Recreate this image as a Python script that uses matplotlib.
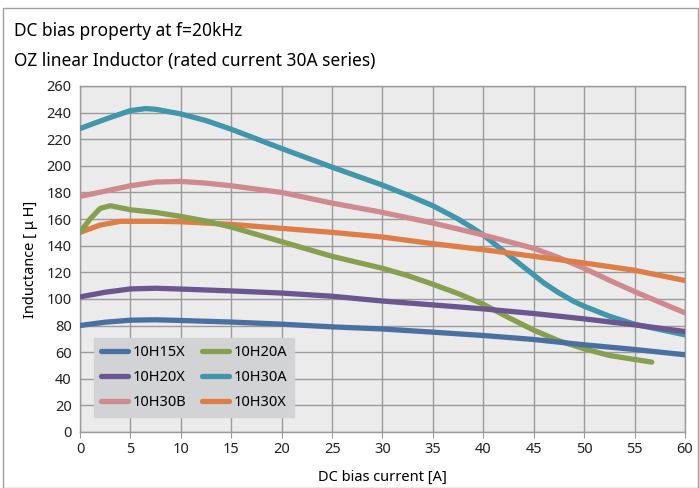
import matplotlib.pyplot as plt
from matplotlib.patches import Rectangle

plt.rcParams['font.family'] = ['Noto Sans', 'DejaVu Sans']

# DC bias current [A] and inductance [uH]
x_15x = [0, 2.5, 5, 7.5, 10, 15, 20, 25, 30, 35, 40, 45, 50, 55, 60]
y_15x = [80, 82.5, 84, 84.3, 83.8, 82.6, 81, 79, 77.4, 75, 72.5, 69.5, 65.5, 62, 58]

x_20x = [0, 2.5, 5, 7.5, 10, 15, 20, 25, 30, 35, 40, 45, 50, 55, 60]
y_20x = [101.5, 105, 107.5, 108, 107.4, 106, 104.4, 102, 98.4, 95.5, 92.5, 89, 85, 80.5, 75.5]

x_20a = [0, 1, 2, 3, 4, 5, 7.5, 10, 12.5, 15, 20, 25, 30, 32.5, 35, 37.5, 40,
         42.5, 45, 47.5, 50, 52.5, 55, 56.7]
y_20a = [150, 160, 168, 170, 168.5, 167, 165, 162, 158.5, 154, 143, 132, 123, 117.5,
         111, 104, 96, 86, 76.5, 68.5, 62.5, 57.5, 54.5, 52.5]

x_30a = [0, 2.5, 5, 6.5, 7.5, 10, 12.5, 15, 20, 25, 30, 32.5, 35, 37.5, 39, 40, 41,
         42.5, 44, 45, 46, 47.5, 49, 50, 52.5, 55, 57.5, 60]
y_30a = [228, 235, 241.5, 243, 242.5, 239, 234, 227.5, 213, 199, 185.5, 178, 170, 160,
         153, 148, 142, 133, 124, 118, 112, 104.5, 98, 94.5, 87, 81, 77, 73]

x_30b = [0, 2.5, 5, 7.5, 10, 12.5, 15, 20, 25, 30, 35, 40, 45, 47.5, 50, 52.5, 55, 57.5, 60]
y_30b = [177, 181, 185, 187.8, 188.3, 187, 185, 180, 172, 165, 157, 148, 138, 131, 123,
         114, 105.5, 97.5, 89.5]

x_30x = [0, 2, 4, 7.5, 10, 15, 20, 25, 30, 35, 40, 45, 50, 55, 60]
y_30x = [150, 155.5, 158.3, 158.3, 158, 156, 153, 150, 146.5, 141.5, 137, 132, 127, 121.5, 113.8]

series = [
    ("10H15X", x_15x, y_15x, "#4a70a2"),
    ("10H20A", x_20a, y_20a, "#86a050"),
    ("10H20X", x_20x, y_20x, "#6b5690"),
    ("10H30A", x_30a, y_30a, "#4196aa"),
    ("10H30B", x_30b, y_30b, "#cf8a8e"),
    ("10H30X", x_30x, y_30x, "#dc7e45"),
]

x_ticks = list(range(0, 61, 5))
y_ticks = list(range(0, 261, 20))

fig = plt.figure(figsize=(6.99, 4.88), dpi=100)
fig.patches.append(Rectangle((0.004, 0.0), 0.995, 0.983, transform=fig.transFigure,
                             fill=False, edgecolor="#a0a0a0", linewidth=1))

ax = fig.add_axes([0.1144, 0.1148, 0.8656, 0.709])
ax.set_facecolor("#ebebeb")

draw_order = ["10H30A", "10H30B", "10H30X", "10H20A", "10H20X", "10H15X"]
lines = {}
for name, xs, ys, col in series:
    ln, = ax.plot(xs, ys, color=col, lw=3.8, solid_capstyle="round",
                  solid_joinstyle="round", label=name)
    lines[name] = ln
for i, name in enumerate(draw_order):
    lines[name].set_zorder(3 + i)

ax.set_xlim(0, 60)
ax.set_ylim(0, 260)
ax.set_xticks(x_ticks)
ax.set_yticks(y_ticks)
ax.grid(True, color="#9a9a9a", linewidth=1)
ax.set_axisbelow(True)
for s in ax.spines.values():
    s.set_color("#9a9a9a")
    s.set_linewidth(1)
ax.tick_params(axis="both", length=4, color="#9a9a9a", labelsize=10.5, labelcolor="#222222")
ax.tick_params(axis="y", length=0, pad=6)

ax.set_xlabel("DC bias current [A]", fontsize=10.5, labelpad=9)
ax.set_ylabel("Inductance [ \u03bc H]", fontsize=10.5, labelpad=6)

fig.text(0.02, 0.936, "DC bias property at f=20kHz", fontsize=12.5, va="center")
fig.text(0.02, 0.876, "OZ linear Inductor (rated current 30A series)", fontsize=12.5, va="center")

# legend fills column-wise: first column 15X, 20X, 30B; second 20A, 30A, 30X
leg_order = ["10H15X", "10H20X", "10H30B", "10H20A", "10H30A", "10H30X"]
leg = ax.legend(handles=[lines[n] for n in leg_order], ncol=2, loc="lower left",
                bbox_to_anchor=(0.023, 0.043), frameon=True, fancybox=False,
                fontsize=10.5, handlelength=1.85, handletextpad=0.3,
                columnspacing=1.1, labelspacing=0.68, borderpad=0.5,
                borderaxespad=0)
leg.get_frame().set_facecolor("#d2d3d5")
leg.get_frame().set_edgecolor("#d2d3d5")
leg.get_frame().set_alpha(1)
leg.set_zorder(20)

fig.savefig("out.png", dpi=100)
